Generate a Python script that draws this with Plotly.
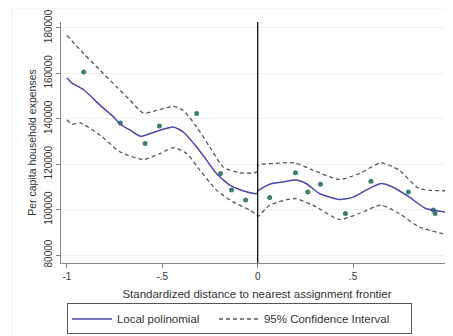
import plotly.graph_objects as go

# Local polynomial fit
fit_x = [-1.0, -0.973, -0.912, -0.825, -0.764, -0.72, -0.668, -0.613, -0.564, -0.512, -0.442, -0.39,
         -0.32, -0.268, -0.216, -0.146, -0.077, -0.004, 0.002, 0.063, 0.132, 0.202, 0.254, 0.324,
         0.428, 0.498, 0.568, 0.646, 0.707, 0.794, 0.881, 1.0]
fit_y = [158100, 155700, 152800, 145900, 141500, 137600, 135000, 132300, 133500, 135000, 136400, 134200,
         127600, 121800, 115900, 110800, 108300, 107100, 108300, 111200, 112200, 113000, 111500, 107100,
         104500, 105400, 108600, 111500, 110000, 105600, 100500, 98800]

# Upper 95% CI
up_x = [-1.0, -0.912, -0.825, -0.738, -0.668, -0.599, -0.529, -0.442, -0.39, -0.32, -0.251, -0.181,
        -0.094, -0.004, 0.002, 0.08, 0.193, 0.289, 0.428, 0.533, 0.646, 0.742, 0.846, 1.0]
up_y = [176700, 168700, 161300, 154000, 148100, 142500, 143700, 145500, 143700, 136400, 127600, 118800,
        116200, 116600, 119600, 120300, 120600, 117400, 113300, 115900, 120600, 117400, 109300, 108300]

# Lower 95% CI
lo_x = [-1.0, -0.973, -0.93, -0.825, -0.72, -0.599, -0.512, -0.442, -0.372, -0.303, -0.216, -0.129,
        -0.042, -0.004, 0.002, 0.063, 0.193, 0.289, 0.428, 0.533, 0.646, 0.742, 0.846, 1.0]
lo_y = [139600, 137600, 138200, 132700, 125400, 122100, 124700, 127300, 124700, 117400, 108600, 103400,
        99800, 97600, 97100, 102000, 104900, 102000, 95700, 98300, 102000, 98300, 92400, 88800]

# Binned means
dot_x = [-0.912, -0.72, -0.59, -0.515, -0.32, -0.195, -0.137, -0.063, 0.063, 0.198, 0.263, 0.329,
         0.46, 0.594, 0.79, 0.921, 0.93]
dot_y = [160600, 138200, 129100, 136800, 142300, 115900, 108600, 104200, 105400, 116300, 107800, 111200,
         98300, 112500, 107800, 99800, 98300]

x_ticks = [-1, -0.5, 0, 0.5, 1]
x_tick_labels = ["-1", "-.5", "0", ".5", "1"]
y_ticks = [80000, 100000, 120000, 140000, 160000, 180000]
y_tick_labels = ["80000", "100000", "120000", "140000", "160000", "180000"]

FONT = "Liberation Sans, Arial, sans-serif"
DASH = "4px,3px"
NBSP = "\u00a0"

fig = go.Figure()
fig.add_trace(go.Scatter(x=dot_x, y=dot_y, mode="markers", showlegend=False,
                         marker=dict(color="#3f7f6c", size=5)))
fig.add_trace(go.Scatter(x=fit_x, y=fit_y, mode="lines", name="Local polinomial" + NBSP * 3,
                         line=dict(color="#4848a8", width=1.5, shape="spline", smoothing=0.6)))
fig.add_trace(go.Scatter(x=up_x, y=up_y, mode="lines", name="95% Confidence Interval" + NBSP * 5,
                         legendgroup="ci",
                         line=dict(color="#555555", width=1.3, dash=DASH, shape="spline", smoothing=0.6)))
fig.add_trace(go.Scatter(x=lo_x, y=lo_y, mode="lines", name="95% Confidence Interval",
                         legendgroup="ci", showlegend=False,
                         line=dict(color="#555555", width=1.3, dash=DASH, shape="spline", smoothing=0.6)))

fig.add_shape(type="line", xref="x", yref="paper", x0=0, x1=0, y0=0, y1=1,
              line=dict(color="#111111", width=1.3))
fig.add_shape(type="rect", xref="paper", yref="paper", x0=-0.125, x1=1.2, y0=-0.5, y1=1.058,
              line=dict(color="#ececec", width=1), layer="below")

# page body has an 8px default margin, so the figure is sized/offset to compensate
fig.update_layout(
    width=445, height=328,
    margin=dict(l=53, r=0, t=14, b=73, autoexpand=False),
    paper_bgcolor="white", plot_bgcolor="white",
    font=dict(family=FONT, size=10, color="#333333"),
    showlegend=True,
    legend=dict(orientation="h", x=0.015, y=-0.168, xanchor="left", yanchor="top",
                bordercolor="#555555", borderwidth=1, font=dict(size=11.5),
                itemwidth=40, tracegroupgap=0),
    xaxis=dict(range=[-1.031, 1.024], tickvals=x_ticks, ticktext=x_tick_labels, automargin=False,
               showgrid=False, zeroline=False, showline=True, linecolor="#888888", linewidth=1,
               ticks="outside", ticklen=4, tickcolor="#888888", tickfont=dict(size=10),
               title=dict(text="Standardized distance to nearest assignment frontier",
                          font=dict(size=11.5), standoff=8)),
    yaxis=dict(range=[76500, 182640], tickvals=y_ticks, ticktext=y_tick_labels, tickangle=-90,
               automargin=False,
               showgrid=True, gridcolor="#efefef", gridwidth=1, zeroline=False,
               showline=True, linecolor="#888888", linewidth=1,
               ticks="outside", ticklen=4, tickcolor="#888888", tickfont=dict(size=10),
               title=dict(text="Per capita household expenses", font=dict(size=10.5), standoff=4)),
)

fig.write_html("out.html")
